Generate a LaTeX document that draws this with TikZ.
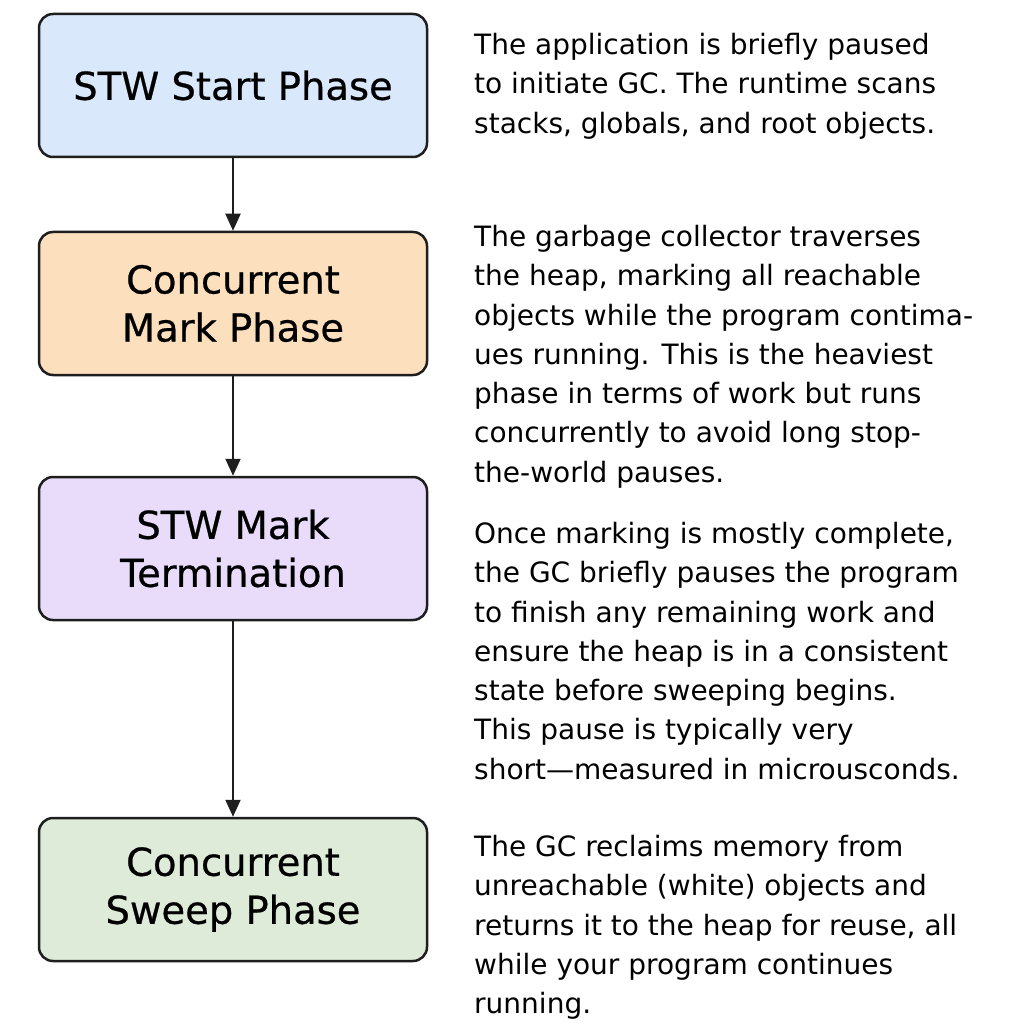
\documentclass[tikz,border=0pt]{standalone}
\usepackage{fontspec}
\setmainfont{DejaVu Sans}
\newfontfamily\boxfont[FakeBold=0.6]{DejaVu Sans}
\usetikzlibrary{arrows.meta}
\definecolor{bxblue}{HTML}{DAE8FC}
\definecolor{bxpeach}{HTML}{FCE0BE}
\definecolor{bxlav}{HTML}{E9DCFA}
\definecolor{bxgreen}{HTML}{DEEBD8}
\definecolor{edge}{HTML}{1E1E1E}
\tikzset{
  phasebox/.style={draw=edge, line width=2.5pt, rounded corners=14pt, minimum width=388pt, minimum height=143pt, align=center, inner sep=0pt, font=\boxfont\fontsize{38.5}{48}\selectfont, text=black},
  desc/.style={anchor=north west, align=left, inner sep=0pt, font=\fontsize{28}{39.3}\selectfont, text=black},
  flow/.style={draw=edge, line width=2pt, -{Triangle[length=17pt,width=15pt]}}
}
\begin{document}
\begin{tikzpicture}[x=1pt,y=-1pt]
\useasboundingbox[fill=white] (0,0) rectangle (1024,1024);
\node[phasebox, fill=bxblue] (b1) at (233,85.5) {STW Start Phase};
\node[phasebox, fill=bxpeach] (b2) at (233,303.5) {Concurrent\\Mark Phase};
\node[phasebox, fill=bxlav] (b3) at (233,548.5) {STW Mark\\Termination};
\node[phasebox, fill=bxgreen] (b4) at (233,889.5) {Concurrent\\Sweep Phase};
\draw[flow] (b1) -- (b2);
\draw[flow] (b2) -- (b3);
\draw[flow] (b3) -- (b4);
\node[desc] (d1) at (474,33) {The application is briefly paused\\to initiate GC. The runtime scans\\stacks, globals, and root objects.};
\node[desc] (d2) at (474,225) {The garbage collector traverses\\the heap, marking all reachable\\objects while the program contima-\\ues running. This is the heaviest\\phase in terms of work but runs\\concurrently to avoid long stop-\\the-world pauses.};
\node[desc] (d3) at (474,522) {Once marking is mostly complete,\\the GC briefly pauses the program\\to finish any remaining work and\\ensure the heap is in a consistent\\state before sweeping begins.\\This pause is typically very\\short\textemdash measured in microusconds.};
\node[desc] (d4) at (474,835) {The GC reclaims memory from\\unreachable (white) objects and\\returns it to the heap for reuse, all\\while your program continues\\running.};
\end{tikzpicture}
\end{document}
